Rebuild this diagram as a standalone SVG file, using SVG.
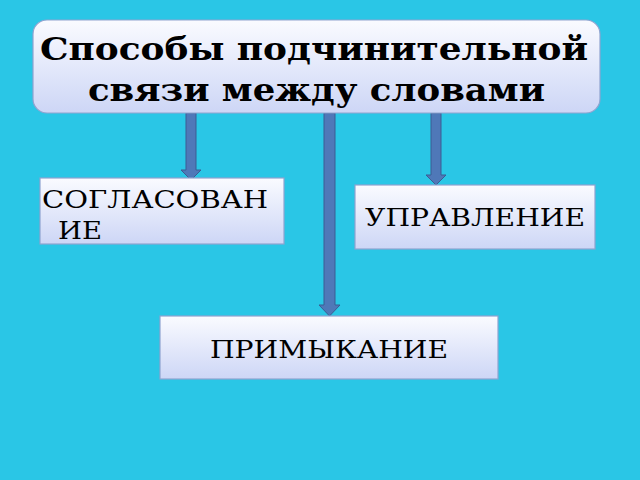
<svg xmlns="http://www.w3.org/2000/svg" width="640" height="480" viewBox="0 0 640 480">
<defs>
<linearGradient id="g" x1="0" y1="0" x2="0" y2="1"><stop offset="0" stop-color="#fafbff"/><stop offset="1" stop-color="#cdd6f6"/></linearGradient>
<style>
.box{fill:url(#g);stroke:#8fa3d0;stroke-width:1.2}
.t{font-family:"DejaVu Serif","Liberation Serif",serif;fill:#000}
.a{fill:#4f78b8;stroke:#3b5d93;stroke-width:1}
</style>
</defs>
<rect width="640" height="480" fill="#2ac6e6"/>
<g id="connectors">
<polygon class="a" points="186,113 196,113 196,170 201,170 191,180 181,170 186,170"/>
<polygon class="a" points="324,113 335,113 335,305 340,305 329.5,316 319,305 324,305"/>
<polygon class="a" points="431,113 441,113 441,175 446,175 436,185 426,175 431,175"/>
</g>
<g id="title">
<rect class="box" x="33" y="20" width="567" height="93" rx="14"/>
<text class="t" x="40" y="60" font-size="32" font-weight="bold" textLength="548" lengthAdjust="spacingAndGlyphs">Способы подчинительной</text>
<text class="t" x="88" y="101" font-size="32" font-weight="bold" textLength="457" lengthAdjust="spacingAndGlyphs">связи между словами</text>
</g>
<g id="soglasovanie">
<rect class="box" x="40" y="178" width="244" height="66"/>
<text class="t" x="42" y="208" font-size="24" textLength="226" lengthAdjust="spacingAndGlyphs">СОГЛАСОВАН</text>
<text class="t" x="58" y="239" font-size="24" textLength="44" lengthAdjust="spacingAndGlyphs">ИЕ</text>
</g>
<g id="upravlenie">
<rect class="box" x="355" y="185" width="240" height="64"/>
<text class="t" x="365" y="226" font-size="24" textLength="220" lengthAdjust="spacingAndGlyphs">УПРАВЛЕНИЕ</text>
</g>
<g id="primykanie">
<rect class="box" x="160" y="316" width="338" height="63"/>
<text class="t" x="210" y="358" font-size="24" textLength="238" lengthAdjust="spacingAndGlyphs">ПРИМЫКАНИЕ</text>
</g>
</svg>
